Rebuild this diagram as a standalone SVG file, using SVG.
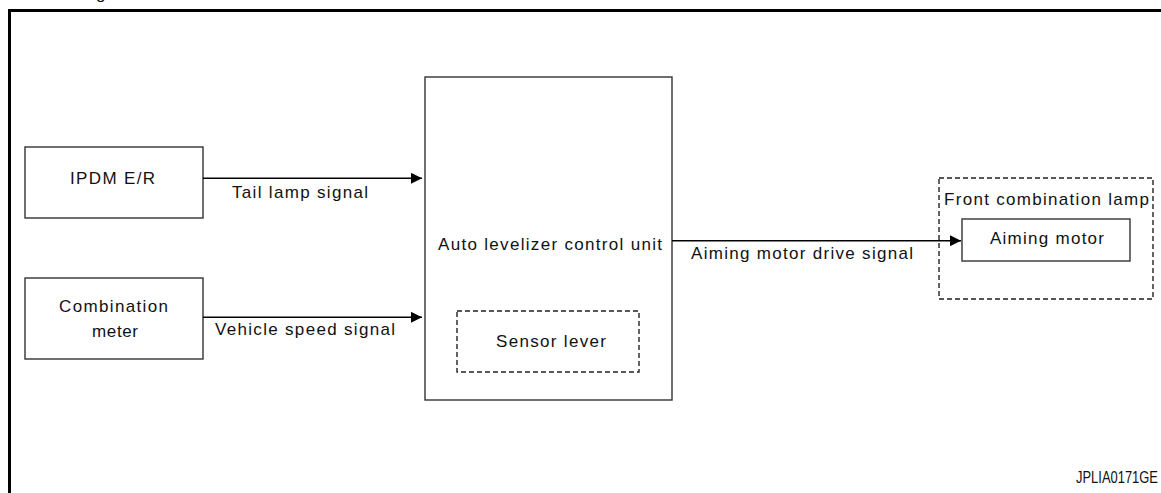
<svg xmlns="http://www.w3.org/2000/svg" width="1161" height="493" viewBox="0 0 1161 493">
<style>
text{font-family:"Liberation Sans",Arial,sans-serif;font-size:17px;fill:#111}
.box{fill:#fff;stroke:#333;stroke-width:1.4}
.dash{fill:none;stroke:#222;stroke-width:1.4;stroke-dasharray:5 3}
.conn{stroke:#000;stroke-width:1.4;fill:none}
</style>
<defs>
<marker id="arr" viewBox="0 0 11 11" refX="11" refY="5.5" markerWidth="11" markerHeight="11" markerUnits="userSpaceOnUse" orient="auto">
<path d="M0,0 L11,5.5 L0,11 Z" fill="#000"/>
</marker>
</defs>
<rect width="1161" height="493" fill="#fff"/>
<text x="96" y="-1" font-size="20">g</text>
<path d="M9.5,500 V10.5 H1170" fill="none" stroke="#000" stroke-width="3"/>
<g id="ipdm">
<rect class="box" x="25" y="147" width="178" height="71"/>
<text x="70" y="184" textLength="85" lengthAdjust="spacing">IPDM E/R</text>
</g>
<g id="combination-meter">
<rect class="box" x="25" y="278" width="178" height="81"/>
<text x="59" y="312" textLength="109" lengthAdjust="spacing">Combination</text>
<text x="92" y="337" textLength="46" lengthAdjust="spacing">meter</text>
</g>
<g id="control-unit">
<rect class="box" x="425" y="77" width="247" height="323"/>
<text x="438" y="250" textLength="224" lengthAdjust="spacing">Auto levelizer control unit</text>
</g>
<g id="sensor-lever">
<rect class="dash" x="457" y="311" width="182" height="61"/>
<text x="496" y="347" textLength="110" lengthAdjust="spacing">Sensor lever</text>
</g>
<g id="front-combination-lamp">
<rect class="dash" x="939" y="178" width="214" height="121"/>
<text x="944" y="205" textLength="205" lengthAdjust="spacing">Front combination lamp</text>
</g>
<g id="aiming-motor">
<rect class="box" x="962" y="219" width="168" height="42"/>
<text x="990" y="244" textLength="114" lengthAdjust="spacing">Aiming motor</text>
</g>
<g id="connectors">
<line class="conn" x1="203" y1="178.3" x2="422" y2="178.3" marker-end="url(#arr)"/>
<line class="conn" x1="203" y1="317.3" x2="422" y2="317.3" marker-end="url(#arr)"/>
<line class="conn" x1="672" y1="240.7" x2="961" y2="240.7" marker-end="url(#arr)"/>
<text x="232" y="198" textLength="136" lengthAdjust="spacing">Tail lamp signal</text>
<text x="215" y="335" textLength="180" lengthAdjust="spacing">Vehicle speed signal</text>
<text x="691" y="259" textLength="222" lengthAdjust="spacing">Aiming motor drive signal</text>
</g>
<text x="1076" y="483" font-size="12" textLength="82" lengthAdjust="spacingAndGlyphs">JPLIA0171GE</text>
</svg>
